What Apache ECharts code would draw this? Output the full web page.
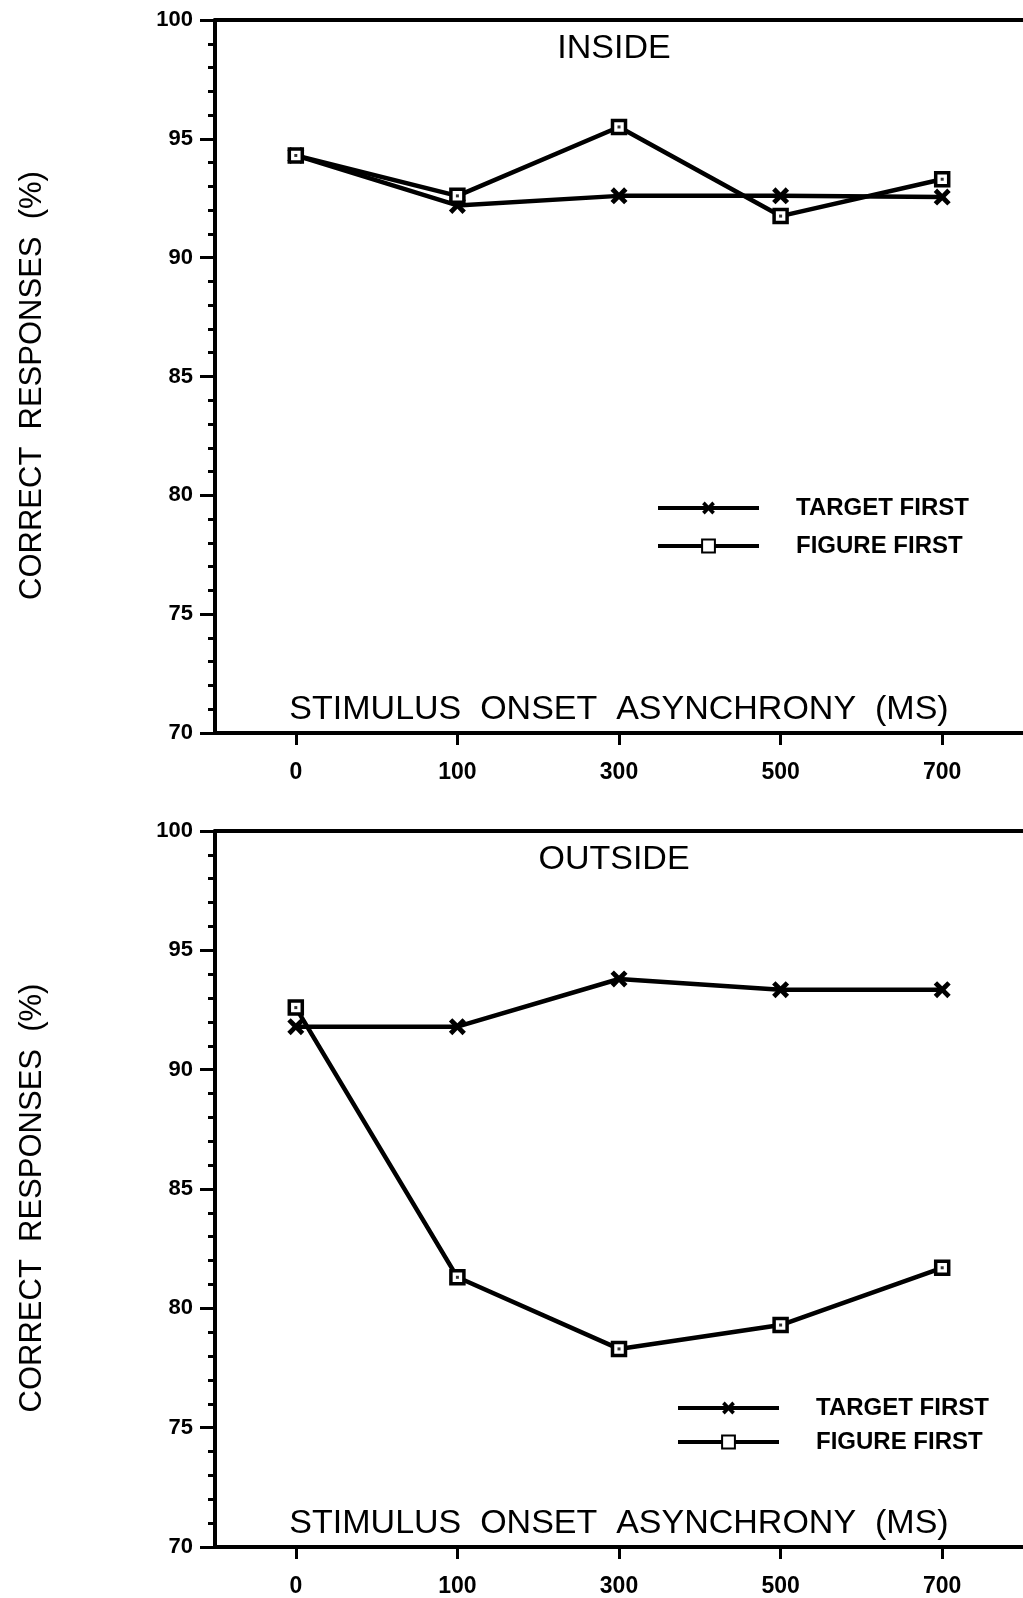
<!DOCTYPE html>
<html>
<head>
<meta charset="utf-8">
<script src="https://cdn.jsdelivr.net/npm/echarts@6/dist/echarts.min.js"></script>
<style>
  html, body { margin: 0; padding: 0; background: #fff; }
  #chart { width: 1023px; height: 1598px; }
</style>
</head>
<body>
<div id="chart"></div>
<script>
// Stimulus onset asynchrony categories (ms)
const categories = ['0', '100', '300', '500', '700'];

// Correct responses (%) - INSIDE condition
const insideTarget = [94.3, 92.2, 92.6, 92.6, 92.55];
const insideFigure = [94.3, 92.6, 95.5, 91.75, 93.3];

// Correct responses (%) - OUTSIDE condition
const outsideTarget = [91.8, 91.8, 93.8, 93.35, 93.35];
const outsideFigure = [92.6, 81.3, 78.3, 79.3, 81.7];

const panelTitles = ['INSIDE', 'OUTSIDE'];
const seriesNames = ['TARGET FIRST', 'FIGURE FIRST'];
const xAxisName = 'STIMULUS  ONSET  ASYNCHRONY  (MS)';
const yAxisName = 'CORRECT  RESPONSES  (%)';

const FONT = '"Liberation Sans", Arial, Helvetica, sans-serif';
const INK = '#000';

// bold cross marker
const crossSymbol = 'path://M0,2L2,0L5,3L8,0L10,2L7,5L10,8L8,10L5,7L2,10L0,8L3,5Z';

const grids = [
  { left: 215, top: 20, width: 811, height: 713 },
  { left: 215, top: 831, width: 811, height: 717 }
];

function bottomAxis(gridIndex) {
  return {
    type: 'category',
    gridIndex,
    data: categories,
    position: 'bottom',
    name: xAxisName,
    nameLocation: 'middle',
    nameGap: -40,
    nameTextStyle: { fontFamily: FONT, fontSize: 34, color: INK },
    axisLine: { show: true, lineStyle: { color: INK, width: 4 } },
    axisTick: { show: true, alignWithLabel: true, length: 12, lineStyle: { color: INK, width: 3 } },
    axisLabel: { fontFamily: FONT, fontSize: 23, fontWeight: 'bold', color: INK, margin: 28 },
    splitLine: { show: false }
  };
}

function topBorder(gridIndex) {
  return {
    type: 'category',
    gridIndex,
    data: categories,
    position: 'top',
    axisLine: { show: true, lineStyle: { color: INK, width: 4 } },
    axisTick: { show: false },
    axisLabel: { show: false },
    splitLine: { show: false }
  };
}

function leftAxis(gridIndex) {
  return {
    type: 'value',
    gridIndex,
    min: 70,
    max: 100,
    interval: 5,
    name: yAxisName,
    nameLocation: 'middle',
    nameRotate: 90,
    nameGap: 167,
    nameTextStyle: { fontFamily: FONT, fontSize: 31, color: INK, padding: [0, 18, 0, 0] },
    axisLine: { show: true, lineStyle: { color: INK, width: 4 } },
    axisTick: { show: true, length: 15, lineStyle: { color: INK, width: 3 } },
    minorTick: { show: true, splitNumber: 5, length: 7, lineStyle: { color: INK, width: 3 } },
    axisLabel: { fontFamily: FONT, fontSize: 22, fontWeight: 'bold', color: INK, margin: 22 },
    splitLine: { show: false }
  };
}

function targetSeries(axisIdx, values) {
  return {
    name: seriesNames[0],
    type: 'line',
    xAxisIndex: axisIdx * 2,
    yAxisIndex: axisIdx,
    data: values,
    symbol: crossSymbol,
    symbolSize: 17,
    lineStyle: { color: INK, width: 4.5 },
    itemStyle: { color: INK },
    z: 3,
    animation: false
  };
}

function figureSeries(axisIdx, values) {
  return {
    name: seriesNames[1],
    type: 'line',
    xAxisIndex: axisIdx * 2,
    yAxisIndex: axisIdx,
    data: values,
    symbol: 'rect',
    symbolSize: 13,
    lineStyle: { color: INK, width: 4.5 },
    itemStyle: { color: '#fff', borderColor: INK, borderWidth: 3.5 },
    z: 4,
    animation: false
  };
}

// small centre dot inside each square marker
function figureDots(axisIdx, values) {
  return {
    name: 'dots',
    type: 'scatter',
    xAxisIndex: axisIdx * 2,
    yAxisIndex: axisIdx,
    data: values,
    symbol: 'rect',
    symbolSize: 3,
    itemStyle: { color: INK },
    silent: true,
    z: 5,
    animation: false
  };
}

function legendFor(left, top, gap) {
  return {
    orient: 'vertical',
    left,
    top,
    data: seriesNames,
    itemWidth: 101,
    itemHeight: 16,
    itemGap: gap,
    selectedMode: false,
    lineStyle: { width: 4, color: INK },
    textStyle: {
      fontFamily: FONT, fontSize: 24, fontWeight: 'bold', color: INK,
      lineHeight: 24, padding: [0, 0, 0, 32]
    }
  };
}

const option = {
  backgroundColor: '#fff',
  animation: false,
  title: [
    { text: panelTitles[0], left: 609, top: 27, textAlign: 'center',
      textStyle: { fontFamily: FONT, fontSize: 34, fontWeight: 'normal', color: INK } },
    { text: panelTitles[1], left: 609, top: 838, textAlign: 'center',
      textStyle: { fontFamily: FONT, fontSize: 34, fontWeight: 'normal', color: INK } }
  ],
  legend: [
    legendFor(651, 491, 14),
    legendFor(671, 1391, 10)
  ],
  grid: grids,
  xAxis: [bottomAxis(0), topBorder(0), bottomAxis(1), topBorder(1)],
  yAxis: [leftAxis(0), leftAxis(1)],
  series: [
    targetSeries(0, insideTarget),
    figureSeries(0, insideFigure),
    figureDots(0, insideFigure),
    targetSeries(1, outsideTarget),
    figureSeries(1, outsideFigure),
    figureDots(1, outsideFigure)
  ]
};

const chart = echarts.init(document.getElementById('chart'), null, { renderer: 'canvas' });
chart.setOption(option);
</script>
</body>
</html>
